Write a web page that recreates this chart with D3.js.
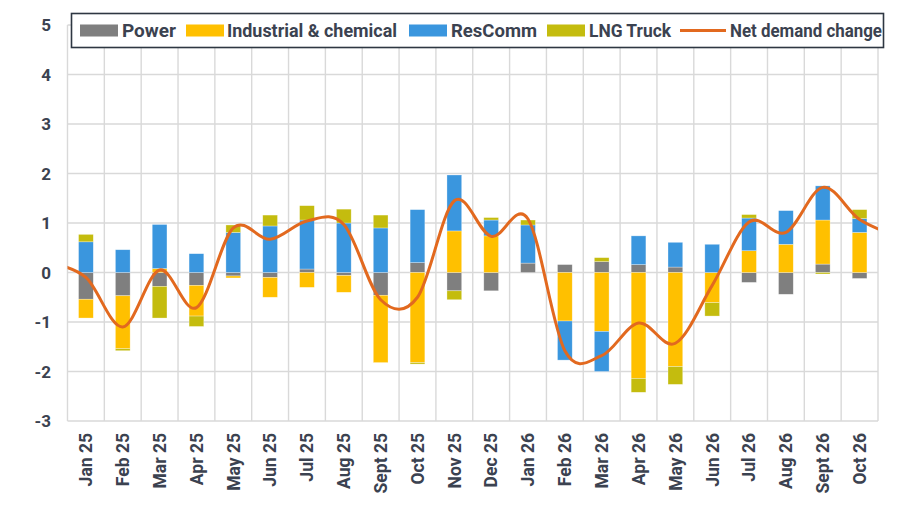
<!DOCTYPE html>
<html>
<head>
<meta charset="utf-8">
<script src="https://cdn.jsdelivr.net/npm/d3@7"></script>
<style>
  body { margin: 0; background: #fff; }
</style>
</head>
<body>
<div id="chart"></div>
<script>
// categories
const months = ["Jan 25", "Feb 25", "Mar 25", "Apr 25", "May 25", "Jun 25", "Jul 25", "Aug 25",
  "Sept 25", "Oct 25", "Nov 25", "Dec 25", "Jan 26", "Feb 26", "Mar 26", "Apr 26", "May 26",
  "Jun 26", "Jul 26", "Aug 26", "Sept 26", "Oct 26"];

// stacked components
const power      = [-0.54, -0.47, -0.28, -0.26, -0.07, -0.10, 0.07, -0.06, -0.46, 0.20, -0.37, -0.37,
                     0.19, 0.16, 0.22, 0.16, 0.11, 0.00, -0.20, -0.44, 0.17, -0.12];
const industrial = [-0.38, -1.07, 0.08, -0.62, -0.04, -0.40, -0.30, -0.34, -1.36, -1.82, 0.84, 0.74,
                     0.00, -0.98, -1.19, -2.14, -1.90, -0.61, 0.44, 0.57, 0.89, 0.81];
const resComm    = [0.62, 0.46, 0.89, 0.38, 0.81, 0.94, 0.99, 1.00, 0.90, 1.07, 1.13, 0.32,
                     0.77, -0.79, -0.81, 0.58, 0.50, 0.57, 0.66, 0.68, 0.69, 0.28];
const lngTruck   = [0.15, -0.04, -0.64, -0.21, 0.15, 0.22, 0.29, 0.28, 0.26, -0.03, -0.18, 0.05,
                     0.10, 0.00, 0.08, -0.28, -0.36, -0.27, 0.07, 0.00, -0.03, 0.18];

// net demand line (runs one month past each end, clipped by the plot)
const netMonths = ["Dec 24", ...months, "Nov 26"];
const netDemand = [0.20, -0.10, -1.10, 0.05, -0.71, 0.90, 0.67, 1.04, 0.97, -0.55, -0.50, 1.45, 0.73,
                   1.08, -1.58, -1.68, -1.02, -1.43, -0.26, 1.02, 0.81, 1.72, 1.07, 0.75];

const yTicks = [-3, -2, -1, 0, 1, 2, 3, 4, 5];

const seriesNames = ["Power", "Industrial & chemical", "ResComm", "LNG Truck"];
const seriesColors = ["#7f7f7f", "#ffc000", "#3a96de", "#c4bc0e"];
const lineColor = "#e2691f";

const width = 905, height = 514;
const margin = { top: 25, right: 27, bottom: 93, left: 67.5 };

const svg = d3.select("#chart").append("svg")
  .attr("width", width)
  .attr("height", height)
  .style("font-family", "Roboto, 'Liberation Sans', Arial, sans-serif");

const x = d3.scaleBand()
  .domain(months)
  .range([margin.left, width - margin.right])
  .paddingInner(0.6)
  .paddingOuter(0.3);

const step = x.step();

const y = d3.scaleLinear()
  .domain([-3, 5])
  .range([height - margin.bottom, margin.top]);

// gridlines
const grid = svg.append("g").attr("stroke", "#d9d9d9").attr("stroke-width", 1.4);
grid.selectAll(".h")
  .data(yTicks)
  .join("line")
  .attr("x1", margin.left)
  .attr("x2", width - margin.right)
  .attr("y1", d => y(d))
  .attr("y2", d => y(d));
grid.selectAll(".v")
  .data(d3.range(months.length + 1))
  .join("line")
  .attr("x1", i => margin.left + i * step)
  .attr("x2", i => margin.left + i * step)
  .attr("y1", y(5))
  .attr("y2", y(-3));

// stacked bars
const table = months.map((m, i) => ({
  month: m,
  "Power": power[i],
  "Industrial & chemical": industrial[i],
  "ResComm": resComm[i],
  "LNG Truck": lngTruck[i]
}));

const stack = d3.stack()
  .keys(seriesNames)
  .offset(d3.stackOffsetDiverging);

svg.append("g")
  .selectAll("g")
  .data(stack(table))
  .join("g")
  .attr("fill", (d, i) => seriesColors[i])
  .selectAll("rect")
  .data(d => d)
  .join("rect")
  .attr("x", d => x(d.data.month))
  .attr("width", x.bandwidth())
  .attr("y", d => y(Math.max(d[0], d[1])))
  .attr("height", d => Math.abs(y(d[0]) - y(d[1])))
  .attr("stroke", "#ffffff")
  .attr("stroke-opacity", 0.5)
  .attr("stroke-width", 0.6);

// net demand line
svg.append("clipPath").attr("id", "plot-clip")
  .append("rect")
  .attr("x", margin.left)
  .attr("y", margin.top)
  .attr("width", width - margin.left - margin.right)
  .attr("height", height - margin.top - margin.bottom);

const xNet = d3.scalePoint()
  .domain(netMonths)
  .range([margin.left - step / 2, width - margin.right + step / 2]);

const line = d3.line()
  .x((d, i) => xNet(netMonths[i]))
  .y(d => y(d))
  .curve(d3.curveCardinal.tension(0));

svg.append("path")
  .datum(netDemand)
  .attr("clip-path", "url(#plot-clip)")
  .attr("fill", "none")
  .attr("stroke", lineColor)
  .attr("stroke-width", 3)
  .attr("d", line);

// y axis labels
svg.append("g")
  .selectAll("text")
  .data(yTicks)
  .join("text")
  .attr("x", 51)
  .attr("y", d => y(d))
  .attr("dy", "0.36em")
  .attr("text-anchor", "end")
  .attr("font-size", 17)
  .attr("font-weight", "bold")
  .attr("fill", "#3b4250")
  .text(d => d);

// x axis labels
svg.append("g")
  .selectAll("text")
  .data(months)
  .join("text")
  .attr("transform", d => `translate(${x(d) + x.bandwidth() / 2},${y(-3) + 12}) rotate(-90)`)
  .attr("dy", "0.36em")
  .attr("text-anchor", "end")
  .attr("font-size", 17.5)
  .attr("font-weight", "bold")
  .attr("fill", "#3b4250")
  .text(d => d);

// legend
const legend = svg.append("g");
legend.append("rect")
  .attr("x", 71.5)
  .attr("y", 13.5)
  .attr("width", 812)
  .attr("height", 34)
  .attr("fill", "#fff")
  .attr("stroke", "#2e3742")
  .attr("stroke-width", 1.6);

const legendItems = [
  { name: "Power", color: seriesColors[0], sx: 80, tx: 122, tw: 54 },
  { name: "Industrial & chemical", color: seriesColors[1], sx: 186, tx: 227, tw: 170 },
  { name: "ResComm", color: seriesColors[2], sx: 409, tx: 451, tw: 86 },
  { name: "LNG Truck", color: seriesColors[3], sx: 547, tx: 589, tw: 82 },
  { name: "Net demand change", color: lineColor, sx: 680, tx: 730, tw: 152, line: true }
];

legendItems.forEach(it => {
  if (it.line) {
    legend.append("line")
      .attr("x1", it.sx).attr("x2", it.sx + 46)
      .attr("y1", 30.5).attr("y2", 30.5)
      .attr("stroke", it.color)
      .attr("stroke-width", 3);
  } else {
    legend.append("rect")
      .attr("x", it.sx).attr("y", 24.5)
      .attr("width", 38).attr("height", 12)
      .attr("fill", it.color);
  }
  legend.append("text")
    .attr("x", it.tx)
    .attr("y", 37)
    .attr("font-size", 19)
    .attr("font-weight", "bold")
    .attr("fill", "#3b4250")
    .attr("textLength", it.tw)
    .attr("lengthAdjust", "spacingAndGlyphs")
    .text(it.name);
});
</script>
</body>
</html>
